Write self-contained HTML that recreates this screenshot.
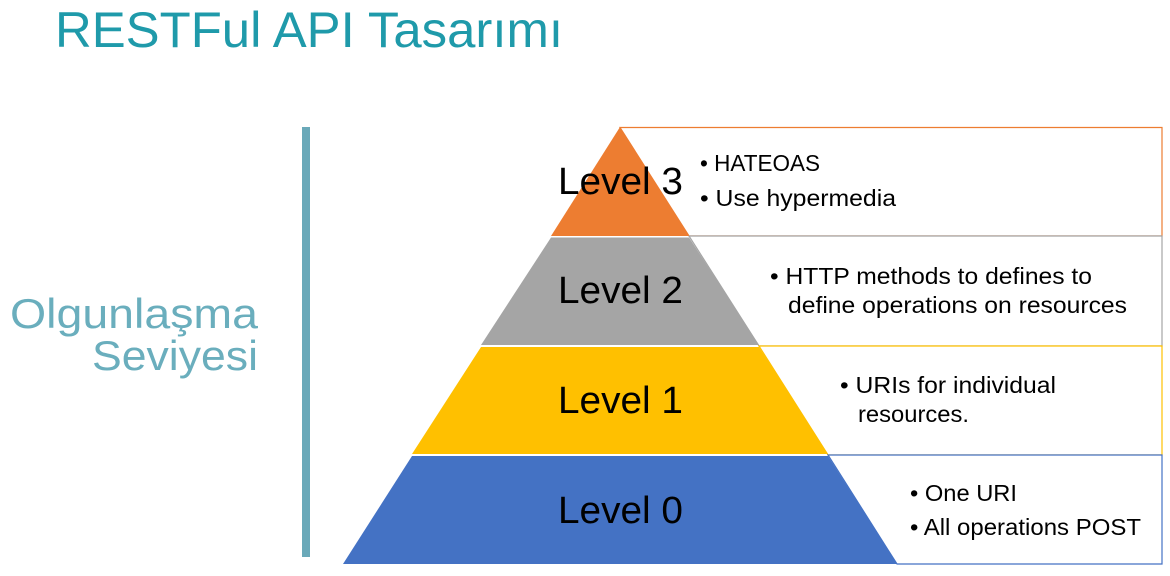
<!DOCTYPE html>
<html><head><meta charset="utf-8"><style>
html,body{margin:0;padding:0;background:#fff;}
body{width:1170px;height:576px;position:relative;overflow:hidden;font-family:"Liberation Sans",sans-serif;}
</style></head><body>
<svg width="1170" height="576" style="position:absolute;left:0;top:0" font-family="Liberation Sans, sans-serif">
<text x="55" y="47" font-size="50" fill="#1f9aaa" textLength="508" lengthAdjust="spacingAndGlyphs">RESTFul API Tasarımı</text>
<rect x="302" y="127" width="8" height="430" fill="#6aa9b9"/>
<text x="10" y="328" font-size="42" fill="#6aaebd" textLength="248" lengthAdjust="spacingAndGlyphs">Olgunlaşma</text>
<text x="92" y="370" font-size="42" fill="#6aaebd" textLength="166" lengthAdjust="spacingAndGlyphs">Seviyesi</text>
<polygon points="620,127.5 1162,127.5 1162,236 689,236" fill="#fff" stroke="#ed7d31" stroke-width="1.2"/>
<polygon points="689,236 1162,236 1162,346 759,346" fill="#fff" stroke="#a5a5a5" stroke-width="1.2"/>
<polygon points="759,346 1162,346 1162,455 828,455" fill="#fff" stroke="#ffc000" stroke-width="1.2"/>
<polygon points="828,455 1162,455 1162,564 897,564" fill="#fff" stroke="#4472c4" stroke-width="1.2"/>
<polygon points="620,127 689,236 551,236" fill="#ed7d31"/>
<polygon points="551,237.5 689,237.5 759,345 481,345" fill="#a5a5a5"/>
<polygon points="481,347 759,347 828,454 412,454" fill="#ffc000"/>
<polygon points="412,456 828,456 897,564 343,564" fill="#4472c4"/>
<g font-size="38" fill="#000">
<text x="558" y="194" textLength="125" lengthAdjust="spacingAndGlyphs">Level 3</text>
<text x="558" y="303" textLength="125" lengthAdjust="spacingAndGlyphs">Level 2</text>
<text x="558" y="413" textLength="125" lengthAdjust="spacingAndGlyphs">Level 1</text>
<text x="558" y="523" textLength="125" lengthAdjust="spacingAndGlyphs">Level 0</text>
</g>
<g font-size="23" fill="#000" lengthAdjust="spacingAndGlyphs">
<text x="700" y="171" textLength="120" lengthAdjust="spacingAndGlyphs">• HATEOAS</text>
<text x="700" y="206" textLength="196" lengthAdjust="spacingAndGlyphs">• Use hypermedia</text>
<text x="770" y="284" textLength="322" lengthAdjust="spacingAndGlyphs">• HTTP methods to defines to</text>
<text x="788" y="313" textLength="339" lengthAdjust="spacingAndGlyphs">define operations on resources</text>
<text x="840" y="393" textLength="216" lengthAdjust="spacingAndGlyphs">• URIs for individual</text>
<text x="858" y="422" textLength="111" lengthAdjust="spacingAndGlyphs">resources.</text>
<text x="910" y="501" textLength="107" lengthAdjust="spacingAndGlyphs">• One URI</text>
<text x="910" y="535" textLength="231" lengthAdjust="spacingAndGlyphs">• All operations POST</text>
</g>
</svg>
</body></html>
